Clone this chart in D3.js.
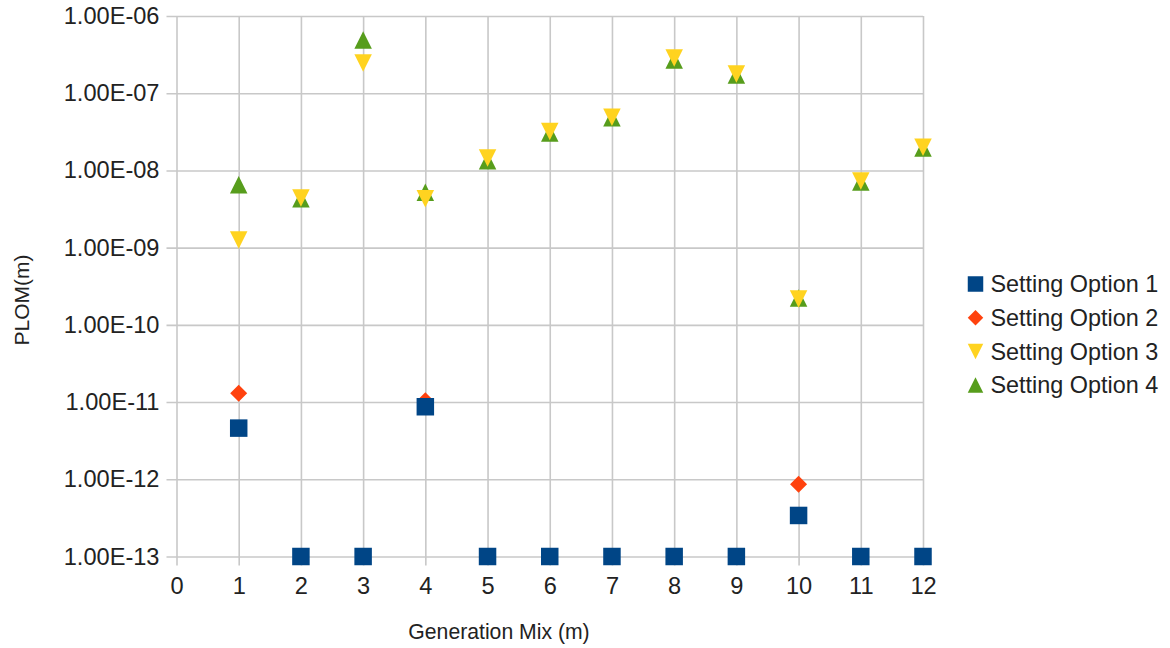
<!DOCTYPE html>
<html>
<head>
<meta charset="utf-8">
<script src="https://cdn.jsdelivr.net/npm/d3@7"></script>
<style>
  html, body { margin: 0; padding: 0; background: #fff; }
  svg { display: block; font-family: "Liberation Sans", Arial, sans-serif; }
</style>
</head>
<body>
<svg id="chart" width="1170" height="648"></svg>
<script>
// ---- data ----
const xValues = [1, 2, 3, 4, 5, 6, 7, 8, 9, 10, 11, 12];
const seriesNames = ["Setting Option 1", "Setting Option 2", "Setting Option 3", "Setting Option 4"];
const option1 = [4.6e-12, 1e-13, 1e-13, 8.7e-12, 1e-13, 1e-13, 1e-13, 1e-13, 1e-13, 3.4e-13, 1e-13, 1e-13];
const option2 = [1.3e-11, null, null, 1.04e-11, null, null, null, null, null, 8.6e-13, null, null];
const option3 = [1.26e-9, 4.4e-9, 2.47e-7, 4.3e-9, 1.45e-8, 3.2e-8, 4.9e-8, 2.85e-7, 1.77e-7, 2.17e-10, 7.3e-9, 2.0e-8];
const option4 = [6.5e-9, 4.3e-9, 4.9e-7, 5.2e-9, 1.33e-8, 3.05e-8, 4.8e-8, 2.7e-7, 1.72e-7, 2.23e-10, 7.1e-9, 1.95e-8];
const xTicks = [0, 1, 2, 3, 4, 5, 6, 7, 8, 9, 10, 11, 12];
const yTicks = [1e-13, 1e-12, 1e-11, 1e-10, 1e-9, 1e-8, 1e-7, 1e-6];
const yTickLabels = ["1.00E-13", "1.00E-12", "1.00E-11", "1.00E-10", "1.00E-09", "1.00E-08", "1.00E-07", "1.00E-06"];
const xTitle = "Generation Mix (m)";
const yTitle = "PLOM(m)";

// ---- styles ----
const colors = ["#004586", "#ff420e", "#ffd320", "#579d1c"];
const shapes = ["square", "diamond", "down", "up"];
const gridColor = "#c8c8c8";
const textColor = "#222";

const svg = d3.select("#chart");
const plotL = 176.5, plotR = 923, plotT = 16, plotB = 556.5;

const x = d3.scaleLinear().domain([0, 12]).range([plotL, plotR]);
const y = d3.scaleLog().domain([1e-13, 1e-6]).range([plotB, plotT]);

// horizontal gridlines + y labels via axis
const gy = svg.append("g").attr("transform", `translate(${plotR},0)`)
  .call(d3.axisLeft(y).tickValues(yTicks)
    .tickFormat((d, i) => yTickLabels[i])
    .tickSize(plotR - plotL + 10).tickPadding(7));
gy.select(".domain").remove();
gy.selectAll(".tick line").attr("stroke", gridColor).attr("stroke-width", 1.6);
gy.selectAll(".tick text").attr("font-size", 23.6).attr("fill", textColor)
  .attr("font-family", "Liberation Sans, Arial, sans-serif");

// vertical gridlines + x labels via axis
const gx = svg.append("g").attr("transform", `translate(0,${plotB + 9})`)
  .call(d3.axisBottom(x).tickValues(xTicks).tickFormat(d3.format("d"))
    .tickSize(-(plotB - plotT + 9)).tickPadding(12));
gx.select(".domain").remove();
gx.selectAll(".tick line").attr("stroke", gridColor).attr("stroke-width", 1.6);
gx.selectAll(".tick text").attr("font-size", 23.6).attr("fill", textColor)
  .attr("font-family", "Liberation Sans, Arial, sans-serif");

// axis titles
svg.append("text").attr("x", 499).attr("y", 639).attr("text-anchor", "middle")
  .attr("font-size", 21.2).attr("fill", textColor).text(xTitle);
svg.append("text").attr("transform", "translate(29,300) rotate(-90)")
  .attr("text-anchor", "middle").attr("font-size", 21).attr("fill", textColor).text(yTitle);

// marker symbol paths
function markerPath(shape, s) {
  const h = s / 2;
  if (shape === "square") return `M${-h},${-h}H${h}V${h}H${-h}Z`;
  if (shape === "diamond") return `M0,${-h}L${h},0L0,${h}L${-h},0Z`;
  if (shape === "down") return `M${-h},${-h}L${h},${-h}L0,${h}Z`;
  return `M0,${-h}L${h},${h}L${-h},${h}Z`;
}

const allSeries = [option1, option2, option3, option4];
const sizes = [17.5, 17, 17.5, 17.5];
// draw in reverse order so Option 1 is on top
for (let s = 3; s >= 0; s--) {
  const pts = xValues.map((xv, i) => ({ x: xv, v: allSeries[s][i] })).filter(d => d.v != null);
  svg.append("g").selectAll("path").data(pts).join("path")
    .attr("transform", d => `translate(${x(d.x)},${y(d.v)})`)
    .attr("d", markerPath(shapes[s], sizes[s]))
    .attr("fill", colors[s]);
}

// legend
const lg = svg.append("g");
seriesNames.forEach((name, i) => {
  const cy = 284 + i * 33.7;
  lg.append("path").attr("transform", `translate(975.5,${cy})`)
    .attr("d", markerPath(shapes[i], 15.5)).attr("fill", colors[i]);
  lg.append("text").attr("x", 990.5).attr("y", cy).attr("dy", "0.35em")
    .attr("font-size", 23.4).attr("fill", textColor).text(name);
});
</script>
</body>
</html>
